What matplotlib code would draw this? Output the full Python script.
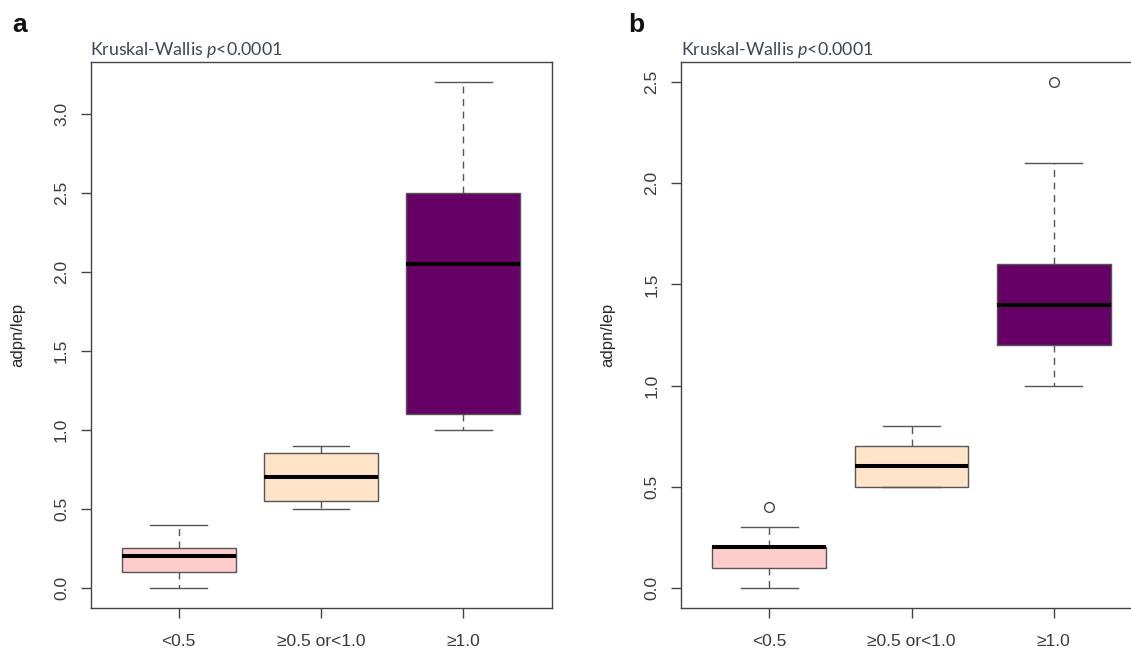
import matplotlib
matplotlib.use("Agg")
import matplotlib.pyplot as plt

plt.rcParams['font.family'] = ['Liberation Sans', 'DejaVu Sans']
plt.rcParams['mathtext.fontset'] = 'custom'
plt.rcParams['mathtext.rm'] = 'Lato'
plt.rcParams['mathtext.it'] = 'Lato:italic'

groups = ['<0.5', '≥0.5 or<1.0', '≥1.0']
box_colors = ['#FFCCCC', '#FFE4CA', '#660066']

# panel a: whisker low, q1, median, q3, whisker high
a_whislo = [0.0, 0.5, 1.0]
a_q1 = [0.1, 0.55, 1.1]
a_med = [0.2, 0.7, 2.05]
a_q3 = [0.25, 0.85, 2.5]
a_whishi = [0.4, 0.9, 3.2]
a_fliers = [[], [], []]

# panel b
b_whislo = [0.0, 0.5, 1.0]
b_q1 = [0.1, 0.5, 1.2]
b_med = [0.2, 0.6, 1.4]
b_q3 = [0.2, 0.7, 1.6]
b_whishi = [0.3, 0.8, 2.1]
b_fliers = [[0.4], [], [2.5]]

title_txt = 'Kruskal-Wallis $p$<0.0001'


def make_stats(lo, q1, med, q3, hi, fl):
    return [dict(whislo=lo[i], q1=q1[i], med=med[i], q3=q3[i], whishi=hi[i],
                 fliers=fl[i], label=groups[i]) for i in range(len(groups))]


def draw_panel(ax, stats, ylim, yticks):
    bp = ax.bxp(stats, positions=[1, 2, 3], widths=0.8, patch_artist=True,
                showfliers=True,
                boxprops=dict(edgecolor='#555555', linewidth=1.0),
                medianprops=dict(color='black', linewidth=2.9, solid_capstyle='butt'),
                whiskerprops=dict(color='#555555', linewidth=1.0, linestyle=(0, (5, 4))),
                capprops=dict(color='#555555', linewidth=1.0),
                capwidths=0.4,
                flierprops=dict(marker='o', markerfacecolor='none',
                                markeredgecolor='#444444', markersize=7,
                                markeredgewidth=1.0))
    for patch, c in zip(bp['boxes'], box_colors):
        patch.set_facecolor(c)
    ax.set_xlim(0.38, 3.62)
    ax.set_ylim(*ylim)
    ax.set_yticks(yticks)
    ax.set_yticklabels([f'{v:.1f}' for v in yticks], rotation=90, va='center')
    ax.set_xticks([1, 2, 3])
    ax.set_xticklabels(groups)
    ax.tick_params(axis='y', length=7.5, width=1, color='#444444', pad=8, labelsize=12.5,
                   labelcolor='#3a3a3a')
    ax.tick_params(axis='x', length=7.5, width=1, color='#444444', pad=11, labelsize=12.5,
                   labelcolor='#3a3a3a')
    for sp in ax.spines.values():
        sp.set_color('#444444')
        sp.set_linewidth(1.0)
    ax.set_ylabel('adpn/lep', fontsize=12, color='#2a2a2a')


fig = plt.figure(figsize=(11.31, 6.48), dpi=100)
W, H = 1131, 648
ax_a = fig.add_axes([90.5 / W, 40 / H, 461 / W, 546 / H])
ax_b = fig.add_axes([681 / W, 40 / H, 461 / W, 546 / H])

draw_panel(ax_a, make_stats(a_whislo, a_q1, a_med, a_q3, a_whishi, a_fliers),
           (-0.128, 3.328), [0.0, 0.5, 1.0, 1.5, 2.0, 2.5, 3.0])
draw_panel(ax_b, make_stats(b_whislo, b_q1, b_med, b_q3, b_whishi, b_fliers),
           (-0.1, 2.6), [0.0, 0.5, 1.0, 1.5, 2.0, 2.5])

ax_a.yaxis.set_label_coords(-0.142, 0.5)
ax_b.yaxis.set_label_coords(-0.142, 0.5)

for ax, letter, lx in [(ax_a, 'a', 12 / W), (ax_b, 'b', 628 / W)]:
    fig.text(lx, (H - 32) / H, letter, fontsize=19, fontweight='bold', ha='left',
             va='baseline', color='#111111')
    x0 = ax.get_position().x0
    fig.text(x0, (H - 55) / H, title_txt, fontsize=12.8, family='Lato', ha='left',
             va='baseline', color='#3d4654')

fig.savefig('out.png', dpi=100)
